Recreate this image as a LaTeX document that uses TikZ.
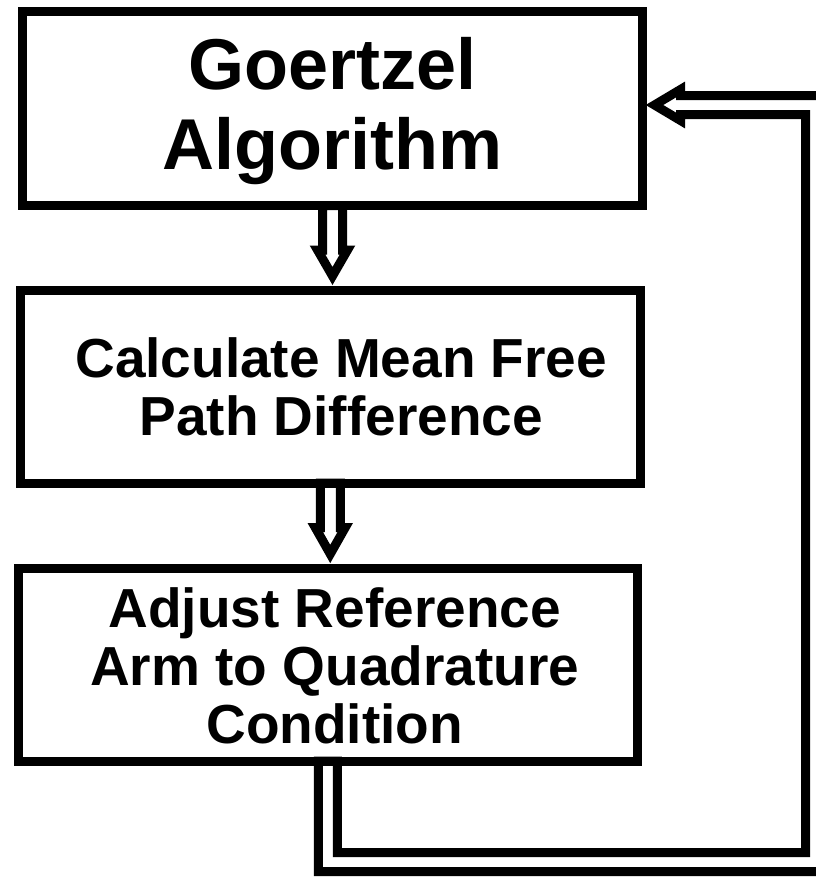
\documentclass[tikz,border=0pt]{standalone}
\usepackage{fontspec}
\setmainfont{Liberation Sans}
\usetikzlibrary{calc,backgrounds}
\begin{document}
\begin{tikzpicture}[x=1pt,y=-1pt,
  box/.style={draw, rectangle, line width=9pt, line join=miter, outer sep=0pt, inner sep=0pt},
  lbl/.style={align=center, inner sep=0pt, font=\fontsize{55}{58}\selectfont\bfseries},
  biglbl/.style={align=center, inner sep=0pt, font=\fontsize{72}{80}\selectfont\bfseries},
  hollow/.style={draw, fill=white, line width=9pt, line join=miter, miter limit=10}]
\useasboundingbox (0,0) rectangle (816,878);

% process boxes
\node[box, minimum width=620pt, minimum height=194pt] (b1) at (332.5,108.5) {};
\node[box, minimum width=620.5pt, minimum height=193pt] (b2) at (330.25,386.5) {};
\node[box, minimum width=619.5pt, minimum height=193pt] (b3) at (327.75,664.5) {};

% box texts
\node[biglbl] (t1) at ($(b1.center)+(0,2.5)$) {Goertzel\\Algorithm};
\node[lbl] (t2) at ($(b2.center)+(11,0)$) {Calculate Mean Free\\Path Difference};
\node[lbl] (t3) at ($(b3.center)+(7,1)$) {Adjust Reference\\Arm to Quadrature\\Condition};

% corner of the feedback loop and its entry point
\coordinate (loopcorner) at (815,862);
\coordinate (fb) at ($(b1.east)+(0,-3.5)$);

\begin{pgfonlayer}{background}
  % hollow arrow b1 -> b2
  \path[hollow] ($(b1.south)+(-10,0)$) -- ($(b1.south)+(-10,44.5)$)
    -- ($(b1.south)+(-15,44.5)$) -- ($(b1.south |- b2.north)+(0,-14)$)
    -- ($(b1.south)+(15,44.5)$) -- ($(b1.south)+(10,44.5)$)
    -- ($(b1.south)+(10,0)$) -- cycle;
  % hollow arrow b2 -> b3
  \path[hollow] ($(b2.south)+(-10,0)$) -- ($(b2.south)+(-10,44.5)$)
    -- ($(b2.south)+(-15,44.5)$) -- ($(b2.south |- b3.north)+(0,-14)$)
    -- ($(b2.south)+(15,44.5)$) -- ($(b2.south)+(10,44.5)$)
    -- ($(b2.south)+(10,0)$) -- cycle;
  % hollow feedback arrow b3 -> b1
  \path[hollow] ($(b3.south)+(-9.5,0)$)
    -- ($(b3.south |- loopcorner)+(-9.5,9.5)$)
    -- ($(loopcorner)+(9.5,9.5)$)
    -- ($(loopcorner |- fb)+(9.5,-9.5)$)
    -- ($(fb)+(38,-9.5)$)
    -- ($(fb)+(38,-15.5)$)
    -- ($(fb)+(12,0)$)
    -- ($(fb)+(38,15.5)$)
    -- ($(fb)+(38,9.5)$)
    -- ($(loopcorner |- fb)+(-9.5,9.5)$)
    -- ($(loopcorner)+(-9.5,-9.5)$)
    -- ($(b3.south |- loopcorner)+(9.5,-9.5)$)
    -- ($(b3.south)+(9.5,0)$) -- cycle;
\end{pgfonlayer}
\end{tikzpicture}
\end{document}
